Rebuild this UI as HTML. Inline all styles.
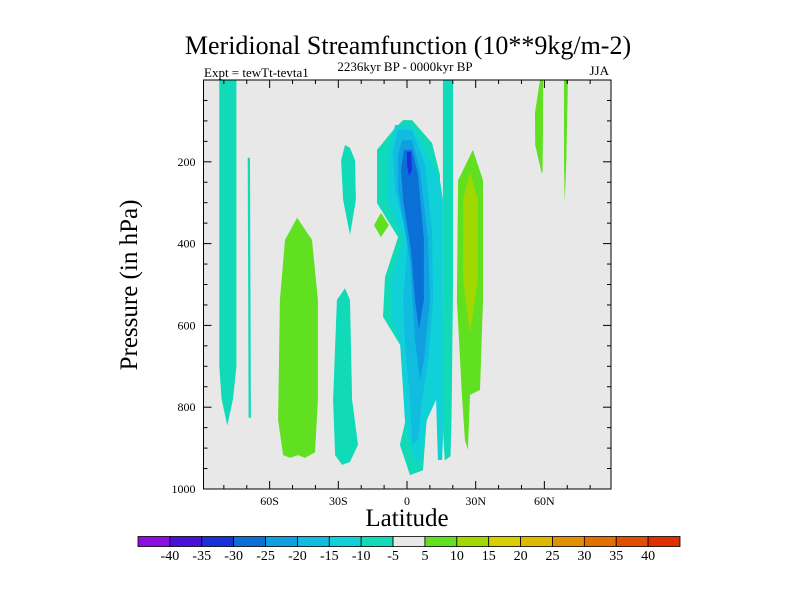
<!DOCTYPE html>
<html><head><meta charset="utf-8"><style>
body{margin:0;background:#fff;}
svg{display:block;font-family:"Liberation Serif",serif;}
</style></head><body>
<svg id="chart" width="800" height="600" viewBox="0 0 800 600">
<text x="408" y="54" font-size="26" text-anchor="middle">Meridional Streamfunction (10**9kg/m-2)</text>
<text x="204" y="77" font-size="13">Expt = tewTt-tevta1</text>
<text x="405" y="71" font-size="13" text-anchor="middle">2236kyr BP - 0000kyr BP</text>
<text x="609" y="75" font-size="13" text-anchor="end">JJA</text>
<rect x="203.5" y="80" width="407.5" height="409" fill="#e8e8e8"/>
<g id="contours"></g>
<g id="axes"></g>
<text x="0" y="0" font-size="25" text-anchor="middle" transform="translate(137,285) rotate(-90)">Pressure (in hPa)</text>
<text x="407" y="526" font-size="25" text-anchor="middle">Latitude</text>
<g id="colorbar"></g>
</svg>
<script>
// ---- data ----
const levelLabels = [-40,-35,-30,-25,-20,-15,-10,-5,5,10,15,20,25,30,35,40];
const levelColors = ["#8b10e0","#4a10d8","#1a30d8","#0a70d8","#10a0e0","#10bce0","#10d0d8","#10dab8","#e8e8e8","#60e020","#a0d800","#d8d000","#e0b800","#e09000","#e07000","#e05000","#e03000"];
const yTicks = [200,400,600,800,1000];
const xTicks = [-60,-30,0,30,60];
const xTickLabels = ["60S","30S","0","30N","60N"];
// contour regions: [colorIndex, [[lat, pressure], ...]]
const regionLevels = [7,7,9,7,7,9,7,7,6,5,4,3,2,9,10,9,9];
const regionShapes = [
 [[-82,0],[-74.5,0],[-74.5,700],[-76,780],[-78.5,845],[-81,780],[-82,700]],
 [[-69.6,190],[-68.6,190],[-68.2,826],[-69.2,826]],
 [[-48,337],[-53.3,391],[-55.5,538],[-56.3,831],[-54.1,917],[-51.1,924],[-47.6,917],[-44.5,924],[-40.2,910],[-38.9,782],[-38.9,538],[-41.5,391]],
 [[-27.1,509],[-30.6,538],[-32.3,782],[-31.4,917],[-28.4,941],[-24.9,934],[-21.4,892],[-24,782],[-24.9,538]],
 [[-27.1,159],[-28.8,196],[-27.9,293],[-24.9,379],[-22.3,293],[-22.7,196],[-24.9,166]],
 [[-11.4,325],[-14.4,355],[-11.4,384],[-7.9,355]],
 [[-1.7,98],[2.2,98],[10.9,154],[14.4,232],[14.4,758],[9.2,782],[7,954],[1.3,966],[-3.1,892],[0.4,807],[-1.7,660],[-10.5,579],[-9.6,482],[-3.9,384],[-13.1,301],[-13.1,171],[-5.2,117]],
 [[15.7,0],[20.1,0],[20.1,500],[19.5,820],[19,920],[16.5,930],[15.3,820],[15.7,500]],
 [[-5.2,110],[1.3,110],[7.9,171],[14.4,245],[15.7,293],[15.7,880],[15.3,929],[13.5,929],[12.7,782],[8.7,831],[5.7,929],[3.5,934],[1.3,880],[-0.9,831],[-3.1,636],[-6.6,587],[-6.6,489],[-1.7,391],[-8.7,293],[-8.7,196]],
 [[-3.9,122],[2.2,122],[7.9,208],[10.9,367],[11.4,538],[9.2,685],[6.6,782],[4.8,880],[2.2,892],[1.3,782],[-0.9,636],[-1.7,538],[0.4,391],[-5.2,269],[-6.1,171]],
 [[-2.2,147],[2.2,147],[5.7,220],[9.2,391],[10,538],[7.4,685],[5.7,733],[3.5,636],[1.3,440],[-3.9,269],[-3.9,183]],
 [[-1.3,171],[2.2,171],[4.8,232],[7.4,391],[7.4,538],[5.2,611],[3.5,538],[1.7,416],[-1.7,293],[-2.6,220]],
 [[0,176],[1.7,176],[2.2,220],[0.9,235],[0,208]],
 [[28.8,171],[33.2,245],[33.2,538],[31.9,758],[27.5,770],[26.6,905],[25.3,880],[24,770],[21.8,538],[22.3,245]],
 [[27.5,225],[31,293],[31,489],[27.5,619],[24.5,489],[24.5,293]],
 [[58.1,0],[59.4,0],[59.4,120],[59.2,227],[58.8,227],[56,160],[55.9,80]],
 [[68.6,0],[70.3,0],[69.6,200],[68.9,301],[68.6,200]]
];
// ---- scales ----
const X0=203.5, X1=611, Y0=80, Y1=489;
const xS = lat => 407 + lat*(X1-X0)/178;
const yS = p => Y0 + p*(Y1-Y0)/1000;
const NS="http://www.w3.org/2000/svg";
function mk(tag, attrs, parent){const e=document.createElementNS(NS,tag);for(const k in attrs)e.setAttribute(k,attrs[k]);parent.appendChild(e);return e;}
const cg=document.getElementById('contours');
regionShapes.forEach((pts,i)=>{
  const d = pts.map((q,j)=>(j?'L':'M')+xS(q[0]).toFixed(1)+','+yS(q[1]).toFixed(1)).join(' ')+'Z';
  const el = mk('path',{d:d,fill:levelColors[regionLevels[i]]},cg);
  
  
});
// axes
const ag=document.getElementById('axes');
const frame=mk('rect',{x:X0,y:Y0,width:X1-X0,height:Y1-Y0,fill:'none',stroke:'#000','stroke-width':1},ag);


for(let p=50;p<1000;p+=50){
  const len = p%200===0?8:4, y=yS(p);
  mk('line',{x1:X0,x2:X0+len,y1:y,y2:y,stroke:'#000'},ag);
  mk('line',{x1:X1,x2:X1-len,y1:y,y2:y,stroke:'#000'},ag);
}
yTicks.forEach(p=>{
  const t=mk('text',{x:X0-8,y:yS(p)+4,'font-size':12,'text-anchor':'end'},ag);
  t.textContent=p;
  
  
});
for(let lat=-80;lat<=80;lat+=10){
  const len = lat%30===0?8:4, x=xS(lat);
  mk('line',{x1:x,x2:x,y1:Y1,y2:Y1-len,stroke:'#000'},ag);
  mk('line',{x1:x,x2:x,y1:Y0,y2:Y0+len,stroke:'#000'},ag);
}
xTicks.forEach((lat,i)=>{
  const t=mk('text',{x:xS(lat),y:Y1+16,'font-size':12,'text-anchor':'middle'},ag);
  t.textContent=xTickLabels[i];
  
  
});
// colorbar
const bg=document.getElementById('colorbar');
const cbL=138, cbR=680, cbT=536.5, cbH=10, bw=(cbR-cbL)/levelColors.length;
levelColors.forEach((c,i)=>{
  const r=mk('rect',{x:cbL+i*bw,y:cbT,width:bw,height:cbH,fill:c,stroke:'#000','stroke-width':0.8},bg);
  
  
});
levelLabels.forEach((v,i)=>{
  const t=mk('text',{x:cbL+(i+1)*bw,y:560,'font-size':14,'text-anchor':'middle'},bg);
  t.textContent=v;
  
  
});
</script>
</body></html>
